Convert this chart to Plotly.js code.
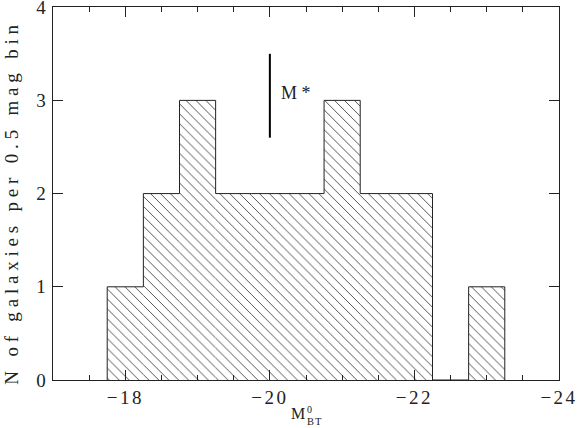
<!DOCTYPE html>
<html>
<head>
<meta charset="utf-8">
<script src="https://cdn.plot.ly/plotly-3.0.1.min.js"></script>
<style>
  html, body { margin: 0; padding: 0; background: #fff; }
  #chart { width: 578px; height: 428px; }
  .xtick text, .ytick text { letter-spacing: 2.5px; }
</style>
</head>
<body>
<div id="chart"></div>
<script>
// absolute magnitude histogram, 0.5 mag bins (bin centres)
const binCentres = [-18, -18.5, -19, -19.5, -20, -20.5, -21, -21.5, -22, -22.5, -23];
const counts     = [1, 2, 3, 2, 2, 2, 3, 2, 2, 0, 1];
const binWidth = 0.5;

// M* marker
const mstarX = [-20, -20];
const mstarY = [2.6, 3.5];

const FONT = "Liberation Serif, Times New Roman, serif";
const INK = "#222";
const X_RANGE = [-17, -24];

// hatched fill, no outlines between neighbouring bins
const bars = {
  type: "bar", x: binCentres, y: counts, width: binWidth,
  marker: {
    color: "#fff",
    line: { width: 0 },
    pattern: { shape: "\\", fgcolor: "#444", bgcolor: "#fff", size: 7, solidity: 0.13 },
  },
  hoverinfo: "none",
};

// outline of the histogram as one step path
const outX = [binCentres[0] + binWidth / 2], outY = [0];
binCentres.forEach((c, i) => {
  outX.push(c + binWidth / 2, c - binWidth / 2);
  outY.push(counts[i], counts[i]);
});
outX.push(binCentres[binCentres.length - 1] - binWidth / 2);
outY.push(0);
const outline = {
  type: "scatter", mode: "lines", x: outX, y: outY,
  line: { color: INK, width: 1 }, hoverinfo: "none",
};

// drawn on the top axis so that axis (and its ticks) exists
const mstar = {
  type: "scatter", mode: "lines", x: mstarX, y: mstarY, xaxis: "x2",
  line: { color: "#000", width: 2 }, hoverinfo: "none",
};

const tickStyle = {
  ticks: "inside", ticklen: 10, tickcolor: INK, tickwidth: 1,
  tickfont: { family: FONT, size: 19, color: INK }, ticklabeloverflow: "allow",
};
const xTicks = {
  range: X_RANGE, dtick: 2, tick0: 0, tickformat: "d",
  minor: { dtick: 0.5, ticks: "inside", ticklen: 5, tickcolor: INK, showgrid: false },
};

const layout = {
  width: 578, height: 428,
  margin: { l: 53, r: 19, t: 7, b: 48 },
  paper_bgcolor: "#fff", plot_bgcolor: "#fff",
  showlegend: false,
  font: { family: FONT, color: INK },
  xaxis: Object.assign({}, tickStyle, xTicks, {
    showgrid: false, zeroline: false, showline: true, linecolor: INK, linewidth: 1, mirror: true,
  }),
  xaxis2: Object.assign({}, tickStyle, xTicks, {
    overlaying: "x", side: "top", showticklabels: false,
    showgrid: false, zeroline: false, showline: false,
  }),
  yaxis: Object.assign({}, tickStyle, {
    range: [0, 4.002], dtick: 1, tick0: 0,
    showgrid: false, zeroline: false, showline: true, linecolor: INK, linewidth: 1, mirror: "ticks",
  }),
  annotations: [
    { text: "M *", x: -20.13, y: 3.08, xref: "x", yref: "y", xanchor: "left", yanchor: "middle",
      showarrow: false, font: { family: FONT, size: 18, color: INK } },
    { text: "N of galaxies per 0.5 mag bin", xref: "paper", yref: "paper", x: -0.083, y: 0.477,
      textangle: -90, xanchor: "center", yanchor: "middle", showarrow: false,
      font: { family: FONT, size: 19, color: INK } },
    { text: "M", xref: "x", yref: "paper", x: -20.27, y: -0.09, xanchor: "left", yanchor: "middle",
      showarrow: false, font: { family: FONT, size: 16, color: INK } },
    { text: "0", xref: "x", yref: "paper", x: -20.49, y: -0.08, xanchor: "left", yanchor: "middle",
      showarrow: false, font: { family: FONT, size: 10, color: INK } },
    { text: "BT", xref: "x", yref: "paper", x: -20.50, y: -0.111, xanchor: "left", yanchor: "middle",
      showarrow: false, font: { family: FONT, size: 10.5, color: INK } },
  ],
};

Plotly.newPlot("chart", [bars, outline, mstar], layout, { displayModeBar: false, staticPlot: true }).then(() => {
  // widen the y title like the original plotting font
  const ann = document.querySelectorAll(".annotation-text");
  if (ann[1]) ann[1].style.letterSpacing = "4.8px";
  if (ann[4]) ann[4].style.letterSpacing = "1px";
});
</script>
</body>
</html>
